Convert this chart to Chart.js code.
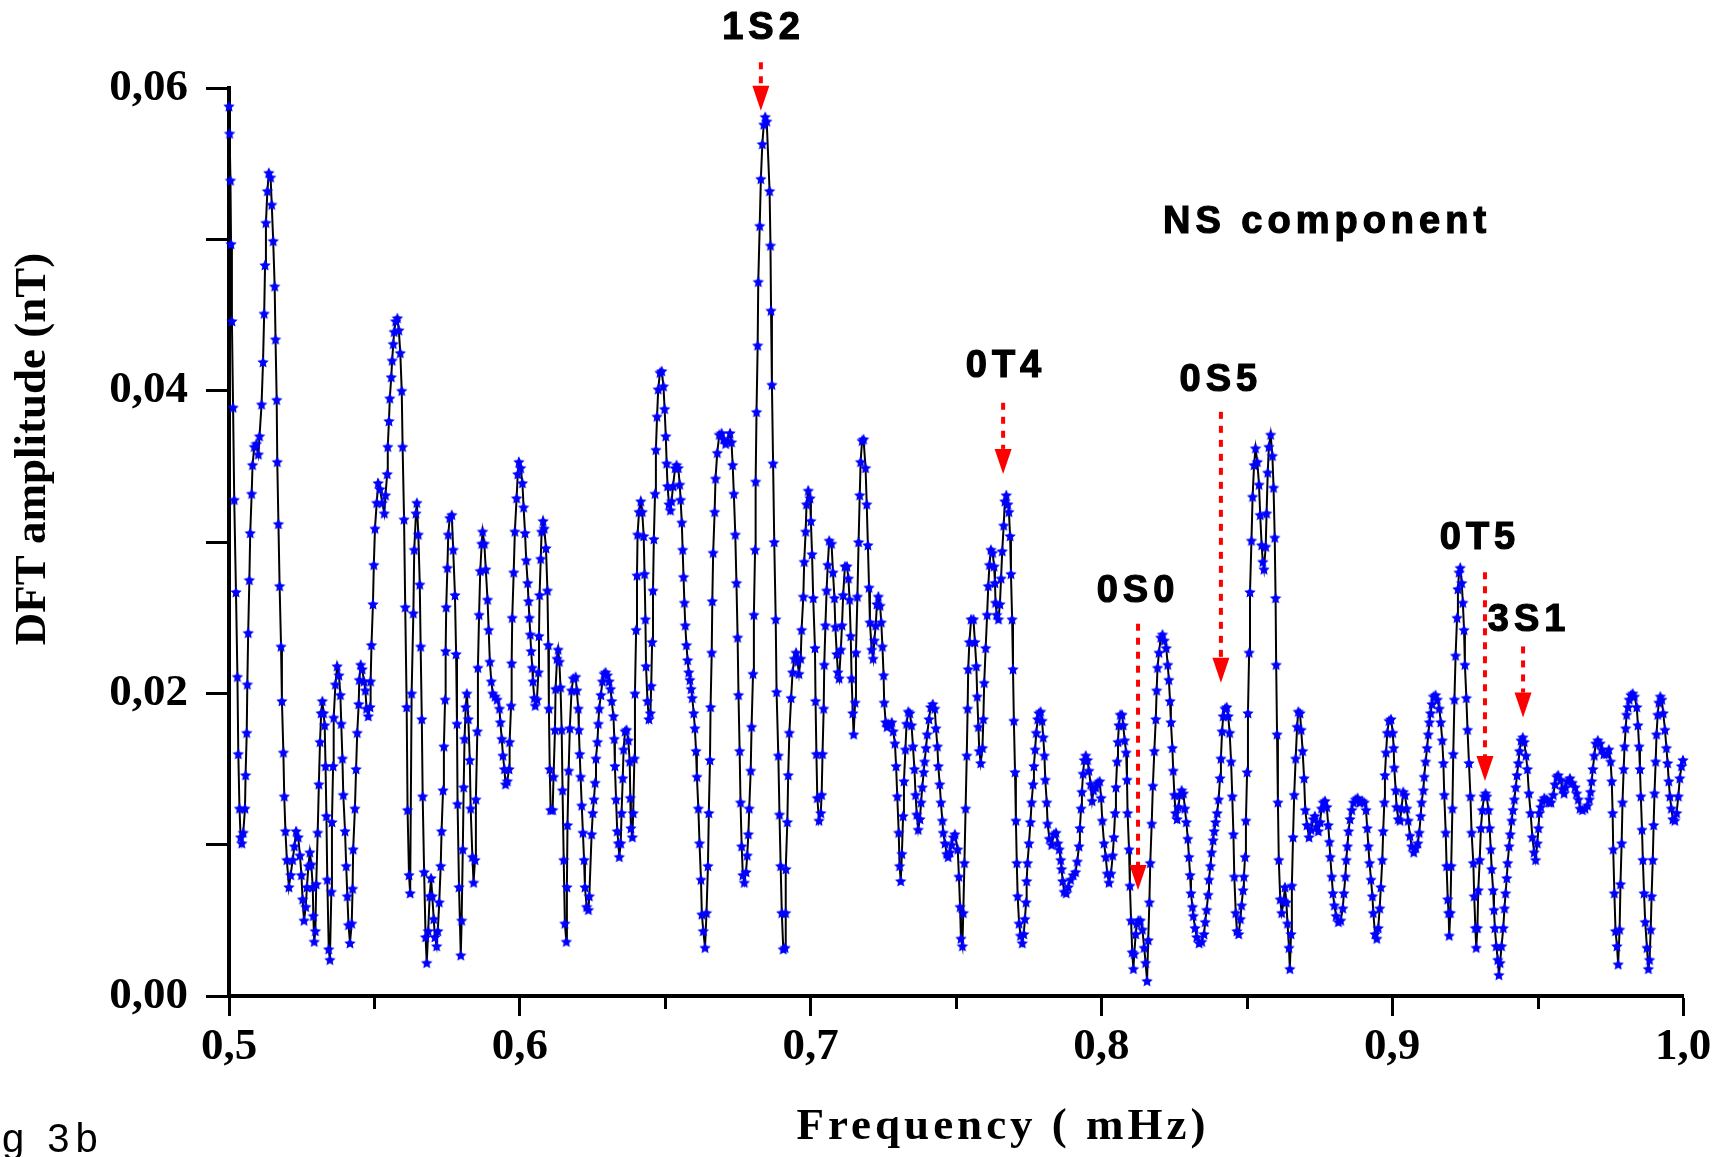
<!DOCTYPE html>
<html>
<head>
<meta charset="utf-8">
<title>DFT amplitude - NS component</title>
<script src="https://cdn.jsdelivr.net/npm/chart.js@4.4.1/dist/chart.umd.min.js"></script>
<style>
  html, body { margin: 0; padding: 0; background: #fff; }
  canvas { display: block; }
</style>
</head>
<body>
<canvas id="dft" width="1716" height="1157"></canvas>
<script>
// frequency of each DFT sample (mHz)
const freq = [
  0.5000,0.5002,0.5005,0.5007,0.5010,0.5014,0.5018,0.5024,0.5029,0.5032,
  0.5036,0.5040,0.5044,0.5049,0.5055,0.5057,0.5061,0.5063,0.5066,0.5070,
  0.5073,0.5078,0.5081,0.5087,0.5094,0.5101,0.5105,0.5112,0.5117,0.5121,
  0.5124,0.5127,0.5132,0.5137,0.5143,0.5147,0.5152,0.5157,0.5160,0.5164,
  0.5166,0.5170,0.5174,0.5179,0.5182,0.5187,0.5190,0.5194,0.5199,0.5206,
  0.5212,0.5219,0.5225,0.5231,0.5238,0.5244,0.5249,0.5253,0.5258,0.5264,
  0.5268,0.5273,0.5278,0.5283,0.5288,0.5290,0.5293,0.5297,0.5300,0.5305,
  0.5309,0.5313,0.5317,0.5321,0.5325,0.5329,0.5332,0.5335,0.5338,0.5343,
  0.5347,0.5352,0.5354,0.5358,0.5360,0.5366,0.5372,0.5378,0.5383,0.5386,
  0.5390,0.5393,0.5399,0.5403,0.5407,0.5411,0.5416,0.5422,0.5425,0.5427,
  0.5433,0.5437,0.5441,0.5446,0.5448,0.5453,0.5458,0.5464,0.5469,0.5473,
  0.5479,0.5485,0.5487,0.5490,0.5495,0.5498,0.5502,0.5508,0.5513,0.5519,
  0.5527,0.5534,0.5538,0.5544,0.5546,0.5550,0.5553,0.5558,0.5561,0.5565,
  0.5568,0.5573,0.5579,0.5584,0.5589,0.5594,0.5597,0.5602,0.5606,0.5611,
  0.5614,0.5619,0.5623,
  0.5628,0.5634,0.5637,0.5643,0.5646,0.5651,0.5656,0.5659,0.5663,0.5666,
  0.5671,0.5676,0.5680,0.5685,0.5690,0.5695,0.5699,0.5704,0.5708,0.5714,
  0.5718,0.5723,0.5728,0.5731,0.5736,0.5739,0.5743,0.5745,0.5747,0.5751,
  0.5754,0.5759,0.5766,0.5771,0.5777,0.5781,0.5784,0.5786,0.5791,0.5797,
  0.5800,0.5804,0.5807,0.5810,0.5814,0.5818,0.5823,0.5828,0.5831,0.5837,
  0.5841,0.5846,0.5849,0.5854,0.5856,0.5860,0.5864,0.5869,0.5872,0.5878,
  0.5883,0.5889,0.5893,0.5897,0.5902,0.5907,0.5915,0.5922,0.5930,0.5933,
  0.5938,0.5942,0.5947,0.5951,0.5957,0.5963,0.5965,0.5970,0.5972,0.5974,
  0.5979,0.5983,0.5989,0.5993,0.5997,0.6003,0.6009,0.6013,0.6018,0.6022,
  0.6027,0.6030,0.6033,0.6036,0.6039,0.6043,0.6045,0.6050,0.6053,0.6059,
  0.6064,0.6066,0.6068,0.6072,0.6075,0.6080,0.6084,0.6090,0.6095,0.6098,
  0.6100,0.6103,0.6106,0.6113,0.6116,0.6121,0.6123,0.6128,0.6132,0.6136,
  0.6140,0.6144,0.6147,0.6151,0.6155,0.6160,0.6162,0.6164,0.6168,0.6172,
  0.6178,0.6184,0.6192,0.6196,0.6201,0.6203,0.6206,0.6209,0.6213,0.6217,
  0.6221,0.6224,0.6230,0.6236,0.6239,
  0.6247,0.6251,0.6255,0.6259,0.6262,0.6267,0.6270,0.6273,0.6279,0.6284,
  0.6290,0.6295,0.6301,0.6307,0.6312,0.6316,0.6322,0.6325,0.6327,0.6331,
  0.6335,0.6339,0.6342,0.6347,0.6350,0.6354,0.6357,0.6362,0.6367,0.6373,
  0.6378,0.6380,0.6382,0.6387,0.6390,0.6394,0.6396,0.6400,0.6403,0.6405,
  0.6410,0.6416,0.6421,0.6426,0.6429,0.6432,0.6434,0.6439,0.6444,0.6449,
  0.6452,0.6455,0.6458,0.6461,0.6465,0.6468,0.6472,0.6476,0.6482,0.6488,
  0.6494,0.6498,0.6502,0.6505,0.6508,0.6513,0.6518,0.6522,0.6527,0.6534,
  0.6539,0.6545,0.6550,0.6553,0.6557,0.6560,0.6563,0.6566,0.6569,0.6573,
  0.6577,0.6581,0.6585,0.6589,0.6593,0.6598,0.6602,0.6606,0.6609,0.6614,
  0.6618,0.6623,0.6626,0.6631,0.6637,0.6642,0.6647,0.6650,0.6654,0.6656,
  0.6660,0.6662,0.6665,0.6670,0.6673,0.6679,0.6686,0.6694,0.6701,0.6708,
  0.6715,0.6723,0.6728,0.6732,0.6736,0.6741,0.6745,0.6749,0.6752,0.6756,
  0.6759,0.6763,0.6767,0.6772,0.6778,0.6782,0.6786,0.6789,0.6794,0.6797,
  0.6802,0.6805,0.6809,0.6811,0.6814,0.6818,0.6820,0.6825,0.6829,0.6834,
  0.6839,0.6844,0.6849,
  0.6859,0.6862,0.6864,0.6867,0.6871,0.6875,0.6880,0.6883,0.6889,0.6893,
  0.6897,0.6901,0.6906,0.6912,0.6914,0.6915,0.6920,0.6923,0.6927,0.6933,
  0.6938,0.6944,0.6950,0.6955,0.6960,0.6966,0.6969,0.6975,0.6978,0.6983,
  0.6986,0.6992,0.6998,0.7001,0.7005,0.7009,0.7015,0.7017,0.7020,0.7023,
  0.7029,0.7035,0.7038,0.7041,0.7045,0.7047,0.7051,0.7055,0.7059,0.7064,
  0.7072,0.7077,0.7082,0.7085,0.7090,0.7094,0.7098,0.7104,0.7108,0.7112,
  0.7118,0.7125,0.7130,0.7134,0.7138,0.7141,0.7145,0.7148,0.7153,0.7156,
  0.7161,0.7165,0.7169,0.7172,0.7177,0.7182,0.7189,0.7193,0.7197,0.7201,
  0.7204,0.7210,0.7215,0.7219,0.7224,0.7228,0.7233,0.7239,0.7243,0.7247,
  0.7251,0.7253,0.7258,0.7263,0.7267,0.7273,0.7279,0.7284,0.7290,0.7294,
  0.7298,0.7303,0.7306,0.7310,0.7314,0.7318,0.7321,0.7326,0.7330,0.7336,
  0.7341,0.7347,0.7352,0.7357,0.7361,0.7365,0.7370,0.7376,0.7380,0.7384,
  0.7389,0.7392,0.7397,0.7401,0.7407,0.7413,0.7420,0.7427,0.7431,0.7436,
  0.7439,0.7444,0.7448,0.7453,0.7456,0.7462,0.7468,0.7473,0.7479,0.7485,
  0.7491,0.7496,
  0.7506,0.7510,0.7514,0.7517,0.7522,0.7525,0.7529,0.7533,0.7537,0.7540,
  0.7542,0.7546,0.7552,0.7560,0.7565,0.7570,0.7573,0.7577,0.7580,0.7585,
  0.7591,0.7594,0.7597,0.7602,0.7607,0.7611,0.7615,0.7620,0.7626,0.7631,
  0.7634,0.7636,0.7640,0.7646,0.7651,0.7655,0.7659,0.7664,0.7668,0.7673,
  0.7678,0.7682,0.7686,0.7689,0.7693,0.7696,0.7699,0.7703,0.7706,0.7709,
  0.7712,0.7717,0.7722,0.7728,0.7733,0.7737,0.7741,0.7743,0.7746,0.7751,
  0.7756,0.7760,0.7765,0.7768,0.7772,0.7776,0.7781,0.7785,0.7791,0.7796,
  0.7800,0.7804,0.7807,0.7812,0.7815,0.7821,0.7829,0.7837,0.7844,0.7850,
  0.7855,0.7860,0.7863,0.7867,0.7872,0.7879,0.7886,0.7894,0.7903,0.7911,
  0.7917,0.7923,0.7926,0.7930,0.7933,0.7937,0.7941,0.7946,0.7952,0.7957,
  0.7963,0.7968,0.7973,0.7980,0.7987,0.7994,0.7999,0.8003,0.8009,0.8015,
  0.8020,0.8026,0.8033,0.8039,0.8043,0.8047,0.8050,0.8054,0.8057,0.8060,
  0.8065,0.8071,0.8075,0.8080,0.8085,0.8088,
  0.8090,0.8095,0.8098,0.8102,0.8106,0.8110,0.8113,0.8118,0.8122,0.8127,
  0.8134,0.8141,0.8147,0.8152,0.8157,0.8161,0.8165,0.8168,0.8173,0.8177,
  0.8182,0.8187,0.8190,0.8193,0.8198,0.8204,0.8210,0.8216,0.8223,0.8228,
  0.8232,0.8236,0.8239,0.8244,0.8247,0.8251,0.8255,0.8260,0.8265,0.8270,
  0.8276,0.8282,0.8287,0.8292,0.8297,0.8301,0.8305,0.8308,0.8313,0.8316,
  0.8322,0.8328,0.8336,0.8345,0.8353,0.8357,0.8362,0.8367,0.8370,0.8375,
  0.8379,0.8384,0.8388,0.8393,0.8398,0.8403,0.8408,0.8411,0.8415,0.8419,
  0.8425,0.8431,0.8436,0.8441,0.8446,0.8450,0.8454,0.8457,0.8462,0.8466,
  0.8472,0.8478,0.8482,0.8487,0.8490,0.8494,0.8497,0.8501,0.8504,0.8508,
  0.8511,0.8516,0.8520,0.8525,0.8530,0.8536,0.8542,0.8546,0.8551,0.8555,
  0.8559,0.8565,0.8568,0.8572,0.8576,0.8582,0.8588,0.8592,0.8596,0.8599,
  0.8601,0.8604,0.8607,0.8610,0.8615,0.8620,0.8627,0.8631,0.8636,0.8640,
  0.8645,0.8648,0.8652,0.8655,0.8659,0.8663,0.8668,0.8673,0.8677,0.8683,
  0.8687,0.8692,0.8697,0.8701,0.8707,0.8714,0.8721,0.8729,0.8734,
  0.8740,0.8746,0.8752,0.8757,0.8763,0.8769,0.8775,0.8780,0.8784,0.8787,
  0.8792,0.8796,0.8801,0.8807,0.8815,0.8823,0.8830,0.8834,0.8839,0.8842,
  0.8846,0.8850,0.8855,0.8861,0.8867,0.8874,0.8881,0.8889,0.8897,0.8904,
  0.8910,0.8914,0.8918,0.8922,0.8927,0.8932,0.8935,0.8941,0.8947,0.8952,
  0.8957,0.8961,0.8966,0.8969,0.8973,0.8975,0.8979,0.8983,0.8989,0.8996,
  0.9002,0.9005,0.9007,0.9012,0.9015,0.9021,0.9027,0.9032,0.9038,0.9044,
  0.9050,0.9055,0.9061,0.9067,0.9074,0.9081,0.9088,0.9093,0.9098,0.9101,
  0.9107,0.9110,0.9115,0.9120,0.9124,0.9128,0.9132,0.9137,0.9142,0.9149,
  0.9155,0.9162,0.9167,0.9172,0.9176,0.9179,0.9184,0.9187,0.9191,0.9194,
  0.9196,0.9200,0.9203,0.9207,0.9210,0.9214,0.9218,0.9223,0.9226,0.9230,
  0.9234,0.9239,0.9243,0.9247,0.9250,0.9255,0.9259,0.9264,0.9269,0.9273,
  0.9279,0.9282,0.9286,0.9289,0.9293,0.9296,0.9301,0.9305,0.9310,0.9316,
  0.9321,
  0.9325,0.9331,0.9335,0.9339,0.9342,0.9347,0.9350,0.9353,0.9358,0.9363,
  0.9367,0.9371,0.9376,0.9382,0.9386,0.9390,0.9394,0.9397,0.9402,0.9406,
  0.9411,0.9415,0.9420,0.9425,0.9429,0.9434,0.9438,0.9443,0.9449,0.9454,
  0.9460,0.9465,0.9470,0.9476,0.9482,0.9488,0.9493,0.9499,0.9503,0.9506,
  0.9511,0.9516,0.9523,0.9531,0.9539,0.9546,0.9554,0.9560,0.9566,0.9571,
  0.9579,0.9585,0.9591,0.9596,0.9602,0.9611,0.9619,0.9629,0.9634,0.9640,
  0.9646,0.9654,0.9663,0.9672,0.9678,0.9682,0.9686,0.9690,0.9695,0.9700,
  0.9707,0.9715,0.9720,0.9728,0.9737,0.9745,0.9751,0.9755,0.9758,0.9760,
  0.9764,0.9768,0.9773,0.9777,0.9782,0.9785,0.9789,0.9792,0.9796,0.9799,
  0.9803,0.9806,0.9811,0.9815,0.9821,0.9827,0.9833,0.9841,0.9845,0.9849,
  0.9852,0.9855,0.9859,0.9862,0.9866,0.9870,0.9876,0.9881,0.9885,0.9889,
  0.9892,0.9896,0.9899,0.9902,0.9906,0.9909,0.9913,0.9917,0.9922,0.9927,
  0.9932,0.9938,0.9943,0.9947,0.9951,0.9955,0.9960,0.9965,0.9972,0.9978,
  0.9984,0.9989,0.9995,1.0000
];

// DFT amplitude of each sample (nT)
const amp = [
  0.0588,0.0570,0.0539,0.0497,0.0446,0.0389,0.0328,0.0267,0.0211,0.0160,
  0.0124,0.0105,0.0101,0.0108,0.0124,0.0146,0.0174,0.0206,0.0240,0.0275,
  0.0306,0.0332,0.0351,0.0363,0.0365,0.0358,0.0370,0.0391,0.0419,0.0451,
  0.0483,0.0511,0.0532,0.0544,0.0541,0.0523,0.0499,0.0469,0.0434,0.0394,
  0.0353,0.0312,0.0271,0.0231,0.0195,0.0161,0.0132,0.0109,0.0090,0.0072,
  0.0080,0.0090,0.0099,0.0109,0.0105,0.0093,0.0080,0.0064,0.0050,0.0059,
  0.0072,0.0086,0.0095,0.0087,0.0072,0.0053,0.0036,0.0043,0.0074,0.0108,
  0.0140,0.0168,0.0187,0.0195,0.0187,0.0179,0.0152,0.0119,0.0077,0.0031,
  0.0024,0.0069,0.0115,0.0152,0.0184,0.0206,0.0218,0.0212,0.0199,0.0180,
  0.0157,0.0133,0.0109,0.0086,0.0066,0.0047,0.0035,0.0048,0.0071,0.0097,
  0.0124,0.0150,0.0174,0.0193,0.0209,0.0219,0.0216,0.0208,0.0202,0.0190,
  0.0185,0.0191,0.0208,0.0232,0.0259,0.0285,0.0309,0.0326,0.0339,0.0335,
  0.0326,0.0319,0.0331,0.0345,0.0363,0.0380,0.0395,0.0409,0.0420,0.0431,
  0.0439,0.0446,0.0448,0.0440,0.0425,0.0400,0.0363,0.0315,0.0257,0.0191,
  0.0123,0.0080,0.0068,
  0.0200,0.0253,0.0295,0.0319,0.0326,0.0305,0.0272,0.0231,0.0183,0.0132,
  0.0082,0.0039,0.0022,0.0043,0.0066,0.0078,0.0066,0.0051,0.0039,0.0033,
  0.0043,0.0062,0.0086,0.0109,0.0136,0.0165,0.0196,0.0228,0.0257,0.0283,
  0.0305,0.0316,0.0318,0.0295,0.0265,0.0226,0.0180,0.0127,0.0072,0.0027,
  0.0050,0.0097,0.0138,0.0170,0.0191,0.0200,0.0183,0.0156,0.0124,0.0092,
  0.0075,0.0090,0.0130,0.0175,0.0217,0.0252,0.0281,0.0299,0.0307,0.0299,
  0.0282,0.0262,0.0242,0.0221,0.0208,0.0200,0.0198,0.0196,0.0190,0.0181,
  0.0170,0.0159,0.0150,0.0140,0.0142,0.0150,0.0168,0.0192,0.0220,0.0250,
  0.0280,0.0307,0.0329,0.0345,0.0353,0.0349,0.0339,0.0323,0.0306,0.0288,
  0.0273,0.0261,0.0250,0.0239,0.0228,0.0217,0.0208,0.0197,0.0192,0.0196,
  0.0214,0.0238,0.0265,0.0289,0.0307,0.0314,0.0309,0.0296,0.0268,0.0232,
  0.0190,0.0150,0.0123,0.0123,0.0145,0.0176,0.0203,0.0223,0.0229,0.0221,
  0.0204,0.0176,0.0136,0.0090,0.0048,0.0036,0.0072,0.0113,0.0149,0.0177,
  0.0202,0.0210,0.0211,0.0202,0.0190,0.0176,0.0160,0.0145,0.0126,0.0108,
  0.0090,0.0072,0.0059,0.0057,0.0066,
  0.0107,0.0121,0.0130,0.0141,0.0157,0.0168,0.0180,0.0190,0.0199,0.0208,
  0.0213,0.0214,0.0212,0.0208,0.0203,0.0195,0.0185,0.0170,0.0152,0.0130,
  0.0109,0.0101,0.0092,0.0101,0.0121,0.0144,0.0163,0.0175,0.0176,0.0169,
  0.0155,0.0131,0.0111,0.0105,0.0121,0.0157,0.0200,0.0242,0.0278,0.0305,
  0.0320,0.0327,0.0320,0.0304,0.0279,0.0249,0.0218,0.0195,0.0183,0.0187,
  0.0205,0.0234,0.0268,0.0302,0.0332,0.0361,0.0383,0.0401,0.0412,0.0413,
  0.0403,0.0388,0.0370,0.0352,0.0337,0.0325,0.0321,0.0327,0.0337,0.0349,
  0.0351,0.0349,0.0338,0.0328,0.0313,0.0295,0.0277,0.0260,0.0245,0.0232,
  0.0222,0.0214,0.0209,0.0203,0.0197,0.0187,0.0177,0.0162,0.0145,0.0124,
  0.0101,0.0077,0.0054,0.0043,0.0032,0.0055,0.0086,0.0121,0.0156,0.0191,
  0.0227,0.0261,0.0293,0.0320,0.0342,0.0359,0.0371,0.0372,0.0368,0.0365,
  0.0367,0.0372,0.0366,0.0351,0.0332,0.0305,0.0273,0.0237,0.0199,0.0162,
  0.0128,0.0099,0.0080,0.0075,0.0082,0.0093,0.0107,0.0124,0.0149,0.0178,
  0.0213,0.0252,0.0295,0.0340,0.0386,0.0430,0.0472,0.0509,0.0540,0.0563,
  0.0576,0.0581,0.0578,
  0.0532,0.0496,0.0453,0.0404,0.0352,0.0300,0.0249,0.0201,0.0159,0.0120,
  0.0086,0.0055,0.0031,0.0032,0.0055,0.0084,0.0115,0.0146,0.0174,0.0197,
  0.0214,0.0223,0.0227,0.0221,0.0213,0.0223,0.0242,0.0264,0.0287,0.0307,
  0.0325,0.0334,0.0329,0.0314,0.0292,0.0263,0.0230,0.0195,0.0160,0.0131,
  0.0116,0.0121,0.0133,0.0160,0.0190,0.0219,0.0245,0.0268,0.0285,0.0301,
  0.0299,0.0280,0.0263,0.0244,0.0226,0.0214,0.0210,0.0229,0.0245,0.0265,
  0.0284,0.0284,0.0276,0.0262,0.0238,0.0210,0.0187,0.0173,0.0194,0.0227,
  0.0264,0.0300,0.0331,0.0353,0.0367,0.0368,0.0349,0.0325,0.0298,0.0270,
  0.0247,0.0229,0.0223,0.0235,0.0245,0.0259,0.0264,0.0258,0.0247,0.0231,
  0.0212,0.0194,0.0181,0.0178,0.0180,0.0179,0.0181,0.0175,0.0167,0.0152,
  0.0132,0.0108,0.0086,0.0076,0.0094,0.0119,0.0142,0.0163,0.0180,0.0188,
  0.0187,0.0179,0.0165,0.0150,0.0133,0.0120,0.0110,0.0117,0.0128,0.0138,
  0.0148,0.0155,0.0164,0.0173,0.0183,0.0191,0.0193,0.0190,0.0177,0.0165,
  0.0152,0.0140,0.0128,0.0116,0.0108,0.0101,0.0094,0.0092,0.0095,0.0100,
  0.0105,0.0107,
  0.0097,0.0079,0.0059,0.0038,0.0033,0.0055,0.0088,0.0124,0.0159,0.0190,
  0.0216,0.0234,0.0249,0.0249,0.0234,0.0218,0.0198,0.0178,0.0162,0.0154,
  0.0164,0.0183,0.0207,0.0230,0.0252,0.0271,0.0285,0.0295,0.0293,0.0284,
  0.0273,0.0260,0.0252,0.0249,0.0259,0.0276,0.0294,0.0311,0.0327,0.0331,
  0.0325,0.0320,0.0304,0.0279,0.0249,0.0216,0.0182,0.0148,0.0116,0.0088,
  0.0066,0.0048,0.0040,0.0035,0.0041,0.0051,0.0062,0.0076,0.0088,0.0101,
  0.0115,0.0128,0.0140,0.0152,0.0163,0.0174,0.0183,0.0187,0.0188,0.0182,
  0.0171,0.0159,0.0143,0.0128,0.0114,0.0104,0.0100,0.0107,0.0108,0.0101,
  0.0097,0.0090,0.0084,0.0076,0.0069,0.0068,0.0072,0.0077,0.0080,0.0082,
  0.0089,0.0099,0.0111,0.0124,0.0135,0.0147,0.0156,0.0159,0.0156,0.0149,
  0.0140,0.0129,0.0136,0.0138,0.0141,0.0142,0.0131,0.0116,0.0101,0.0092,
  0.0081,0.0075,0.0081,0.0093,0.0105,0.0121,0.0138,0.0155,0.0168,0.0179,
  0.0186,0.0186,0.0179,0.0169,0.0161,0.0143,
  0.0121,0.0097,0.0073,0.0050,0.0029,0.0018,0.0028,0.0041,0.0048,0.0050,
  0.0050,0.0044,0.0032,0.0022,0.0010,0.0037,0.0062,0.0088,0.0114,0.0139,
  0.0162,0.0183,0.0202,0.0217,0.0227,0.0237,0.0239,0.0235,0.0230,0.0219,
  0.0209,0.0195,0.0181,0.0164,0.0149,0.0133,0.0121,0.0117,0.0125,0.0133,
  0.0136,0.0134,0.0124,0.0115,0.0104,0.0092,0.0080,0.0068,0.0059,0.0053,
  0.0045,0.0039,0.0035,0.0036,0.0041,0.0049,0.0057,0.0067,0.0077,0.0086,
  0.0095,0.0103,0.0109,0.0115,0.0121,0.0130,0.0144,0.0157,0.0175,0.0185,
  0.0190,0.0191,0.0185,0.0174,0.0155,0.0132,0.0107,0.0079,0.0055,0.0043,
  0.0041,0.0051,0.0060,0.0070,0.0079,0.0092,0.0116,0.0148,0.0187,0.0227,
  0.0267,0.0301,0.0330,0.0351,0.0362,0.0353,0.0338,0.0318,0.0298,0.0287,
  0.0282,0.0297,0.0319,0.0346,0.0363,0.0371,0.0357,0.0336,0.0303,0.0263,
  0.0219,0.0173,0.0128,0.0090,0.0064,0.0055,0.0063,0.0072,0.0062,0.0048,
  0.0032,0.0018,0.0041,0.0073,0.0105,0.0133,0.0157,0.0178,0.0188,0.0187,
  0.0176,0.0162,0.0144,0.0123,0.0113,0.0105,0.0110,0.0117,0.0119,
  0.0112,0.0109,0.0115,0.0124,0.0128,0.0129,0.0125,0.0113,0.0102,0.0092,
  0.0079,0.0068,0.0060,0.0053,0.0049,0.0050,0.0058,0.0068,0.0079,0.0090,
  0.0099,0.0109,0.0117,0.0123,0.0128,0.0130,0.0131,0.0128,0.0129,0.0128,
  0.0123,0.0111,0.0099,0.0088,0.0077,0.0066,0.0055,0.0041,0.0038,0.0045,
  0.0058,0.0072,0.0090,0.0109,0.0128,0.0146,0.0161,0.0174,0.0182,0.0183,
  0.0174,0.0164,0.0151,0.0136,0.0125,0.0117,0.0116,0.0124,0.0135,0.0133,
  0.0124,0.0116,0.0106,0.0099,0.0095,0.0098,0.0101,0.0108,0.0119,0.0128,
  0.0136,0.0145,0.0155,0.0164,0.0173,0.0181,0.0187,0.0193,0.0198,0.0199,
  0.0196,0.0190,0.0181,0.0169,0.0154,0.0133,0.0108,0.0086,0.0064,0.0055,
  0.0040,0.0055,0.0086,0.0124,0.0160,0.0196,0.0225,0.0250,0.0269,0.0280,
  0.0283,0.0273,0.0260,0.0242,0.0219,0.0197,0.0176,0.0154,0.0132,0.0108,
  0.0088,0.0066,0.0045,0.0032,0.0045,0.0070,0.0090,0.0111,0.0123,0.0132,
  0.0134,
  0.0132,0.0123,0.0111,0.0097,0.0084,0.0070,0.0057,0.0045,0.0033,0.0024,
  0.0014,0.0022,0.0033,0.0045,0.0058,0.0068,0.0078,0.0088,0.0099,0.0107,
  0.0116,0.0123,0.0130,0.0138,0.0146,0.0154,0.0162,0.0169,0.0171,0.0168,
  0.0159,0.0150,0.0134,0.0121,0.0105,0.0095,0.0090,0.0101,0.0111,0.0121,
  0.0125,0.0129,0.0131,0.0130,0.0128,0.0128,0.0133,0.0140,0.0145,0.0146,
  0.0143,0.0137,0.0134,0.0138,0.0142,0.0144,0.0141,0.0138,0.0134,0.0130,
  0.0124,0.0123,0.0124,0.0126,0.0130,0.0135,0.0142,0.0150,0.0159,0.0167,
  0.0169,0.0167,0.0163,0.0160,0.0160,0.0163,0.0155,0.0142,0.0121,0.0097,
  0.0068,0.0043,0.0033,0.0021,0.0044,0.0074,0.0101,0.0128,0.0150,0.0165,
  0.0177,0.0186,0.0191,0.0196,0.0199,0.0200,0.0198,0.0191,0.0179,0.0165,
  0.0150,0.0132,0.0110,0.0090,0.0068,0.0049,0.0032,0.0018,0.0024,0.0044,
  0.0066,0.0090,0.0113,0.0134,0.0155,0.0173,0.0186,0.0194,0.0198,0.0196,
  0.0187,0.0176,0.0164,0.0154,0.0142,0.0132,0.0124,0.0117,0.0116,0.0121,
  0.0132,0.0144,0.0152,0.0156
];

// tick labels
const xTickLabels = ['0,5', '0,6', '0,7', '0,8', '0,9', '1,0'];
const yTickLabels = ['0,00', '0,02', '0,04', '0,06'];

// normal modes marked on the spectrum
const modeNames = ['1S2', '0T4', '0S5', '0S0', '0T5', '3S1'];
const arrowFreq = [0.6829, 0.7662, 0.8411, 0.8126, 0.9319, 0.9450];
const arrowTop  = [0.0617, 0.0392, 0.0386, 0.0246, 0.0280, 0.0231];
const arrowTip  = [0.0585, 0.0345, 0.0207, 0.0070, 0.0142, 0.0184];
const labelFreq = [0.6831, 0.7665, 0.8404, 0.8119, 0.9295, 0.9464];
const labelAmp  = [0.0639, 0.0416, 0.0407, 0.0267, 0.0302, 0.0248];

const SERIF = '"Liberation Serif", "Times New Roman", serif';
const SANS = '"Liberation Sans", Arial, sans-serif';

// filled five point star used as marker
function starMarker(r, color) {
  const s = Math.ceil(r * 2) + 2;
  const c = document.createElement('canvas');
  c.width = c.height = s;
  const g = c.getContext('2d');
  g.fillStyle = color;
  g.beginPath();
  for (let i = 0; i < 10; i++) {
    const rr = i % 2 ? r * 0.48 : r;
    const a = -Math.PI / 2 + i * Math.PI / 5;
    g.lineTo(s / 2 + rr * Math.cos(a), s / 2 + rr * Math.sin(a) + r * 0.1);
  }
  g.closePath();
  g.fill();
  return c;
}

const points = [];
for (let i = 0; i < Math.min(freq.length, amp.length); i++) {
  points.push({ x: freq[i], y: amp[i] });
}

const isMajorX = v => Math.round((v - 0.5) * 20) % 2 === 0;

// bold sans label, slightly thickened like the original artwork
function heavyText(ctx, text, x, y) {
  ctx.lineWidth = 1.2;
  ctx.strokeStyle = '#000';
  ctx.fillText(text, x, y);
  ctx.strokeText(text, x, y);
}

const decorations = {
  id: 'decorations',
  afterDatasetsDraw(chart) {
    const { ctx, scales: { x, y } } = chart;
    ctx.save();
    modeNames.forEach((name, i) => {
      const px = x.getPixelForValue(arrowFreq[i]);
      const top = y.getPixelForValue(arrowTop[i]);
      const tip = y.getPixelForValue(arrowTip[i]);
      const headH = 25, headW = 17;
      ctx.strokeStyle = '#ff0000';
      ctx.lineWidth = 4;
      ctx.setLineDash([7, 7]);
      ctx.beginPath();
      ctx.moveTo(px, top);
      ctx.lineTo(px, tip - headH);
      ctx.stroke();
      ctx.setLineDash([]);
      ctx.fillStyle = '#ff0000';
      ctx.beginPath();
      ctx.moveTo(px - headW / 2, tip - headH);
      ctx.lineTo(px + headW / 2, tip - headH);
      ctx.lineTo(px, tip);
      ctx.closePath();
      ctx.fill();

      ctx.fillStyle = '#000';
      ctx.font = 'bold 38px ' + SANS;
      ctx.letterSpacing = '5px';
      ctx.textAlign = 'center';
      ctx.textBaseline = 'middle';
      heavyText(ctx, name, x.getPixelForValue(labelFreq[i]) + 2, y.getPixelForValue(labelAmp[i]));
    });
    heavyText(ctx, 'NS component', x.getPixelForValue(0.8769) + 2, y.getPixelForValue(0.0511));
    ctx.restore();
  },
  afterDraw(chart) {
    const { ctx, chartArea, scales: { x } } = chart;
    ctx.save();
    // minor ticks on the frequency axis
    ctx.strokeStyle = '#000';
    ctx.lineWidth = 3;
    x.ticks.forEach(t => {
      if (isMajorX(t.value)) return;
      const px = Math.round(x.getPixelForValue(t.value)) + 0.5;
      ctx.beginPath();
      ctx.moveTo(px, chartArea.bottom);
      ctx.lineTo(px, chartArea.bottom + 13);
      ctx.stroke();
    });

    ctx.fillStyle = '#000';
    ctx.textAlign = 'center';
    ctx.textBaseline = 'middle';
    ctx.font = 'bold 45px ' + SERIF;
    ctx.letterSpacing = '4px';
    ctx.fillText('Frequency ( mHz)', 1003, 1127);

    ctx.save();
    ctx.translate(33, 449);
    ctx.rotate(-Math.PI / 2);
    ctx.letterSpacing = '0px';
    ctx.fillText('DFT amplitude (nT)', 0, 0);
    ctx.restore();

    ctx.font = '40px ' + SANS;
    ctx.letterSpacing = '6px';
    ctx.textAlign = 'left';
    ctx.textBaseline = 'alphabetic';
    ctx.fillText('g 3b', 2, 1152);
    ctx.restore();
  }
};

new Chart(document.getElementById('dft'), {
  type: 'line',
  data: {
    datasets: [{
      data: points,
      borderColor: '#000000',
      borderWidth: 2,
      tension: 0,
      pointStyle: starMarker(6, '#0000ff'),
      pointRadius: 6,
      clip: false
    }]
  },
  options: {
    responsive: false,
    animation: false,
    events: [],
    devicePixelRatio: 1,
    layout: { padding: { left: 0, top: 88, right: 33, bottom: 0 } },
    plugins: { legend: { display: false }, tooltip: { enabled: false } },
    scales: {
      x: {
        type: 'linear',
        min: 0.5,
        max: 1.0,
        afterFit(s) { s.height = 161; s.paddingLeft = 0; s.paddingRight = 0; },
        border: { display: true, color: '#000', width: 4 },
        grid: {
          drawOnChartArea: false,
          drawTicks: true,
          tickLength: 20,
          tickWidth: 3,
          tickColor: c => (c.tick && isMajorX(c.tick.value)) ? '#000' : 'rgba(0,0,0,0)'
        },
        ticks: {
          stepSize: 0.05,
          autoSkip: false,
          maxRotation: 0,
          padding: 4,
          color: '#000',
          font: { family: SERIF, size: 45, weight: 'bold' },
          callback: v => {
            const k = Math.round((v - 0.5) * 20);
            return k % 2 === 0 ? xTickLabels[k / 2] : '';
          }
        }
      },
      y: {
        type: 'linear',
        min: 0,
        max: 0.06,
        afterFit(s) { s.width = 229; s.paddingTop = 0; s.paddingBottom = 0; },
        border: { display: true, color: '#000', width: 4 },
        grid: {
          drawOnChartArea: false,
          drawTicks: true,
          tickLength: 23,
          tickWidth: 3,
          tickColor: '#000'
        },
        ticks: {
          stepSize: 0.01,
          autoSkip: false,
          padding: 18,
          color: '#000',
          font: { family: SERIF, size: 45, weight: 'bold' },
          callback: v => {
            const k = Math.round(v * 100);
            return k % 2 === 0 ? yTickLabels[k / 2] : '';
          }
        }
      }
    }
  },
  plugins: [decorations]
});
</script>
</body>
</html>
